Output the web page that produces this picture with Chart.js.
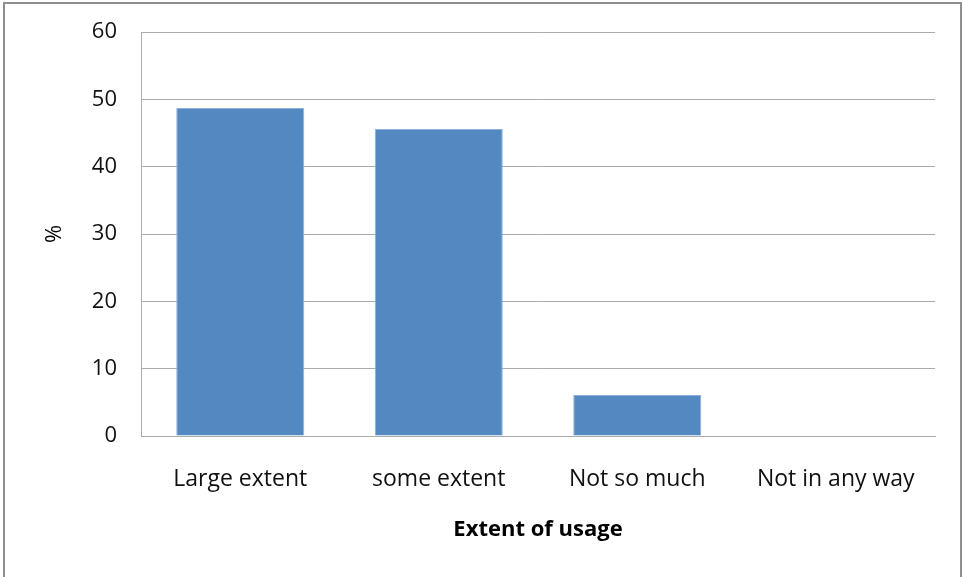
<!DOCTYPE html>
<html>
<head>
<meta charset="utf-8">
<script src="https://cdn.jsdelivr.net/npm/chart.js@4/dist/chart.umd.min.js"></script>
<style>
  html, body { margin: 0; padding: 0; background: #fff; }
  #wrap { width: 963px; height: 577px; }
</style>
</head>
<body>
<div id="wrap"><canvas id="c" width="963" height="577"></canvas></div>
<script>
const categories = ['Large extent', 'some extent', 'Not so much', 'Not in any way'];
const percentages = [48.7, 45.6, 6.1, 0];
const yTicks = [0, 10, 20, 30, 40, 50, 60];

const FONT = '"Open Sans", Lato, sans-serif';

// outer frame around the chart
const framePlugin = {
  id: 'frame',
  beforeDraw(chart) {
    const ctx = chart.ctx;
    ctx.save();
    ctx.strokeStyle = '#8f8f8f';
    ctx.lineWidth = 2;
    ctx.beginPath();
    ctx.moveTo(4, 577);
    ctx.lineTo(4, 3);
    ctx.lineTo(961, 3);
    ctx.lineTo(961, 577);
    ctx.stroke();
    ctx.restore();
  }
};

new Chart(document.getElementById('c'), {
  type: 'bar',
  data: {
    labels: categories,
    datasets: [{
      data: percentages,
      backgroundColor: '#5388C1',
      borderColor: '#8fb0da',
      borderWidth: 1,
      barPercentage: 1,
      categoryPercentage: 0.645
    }]
  },
  options: {
    responsive: false,
    animation: false,
    layout: { padding: { left: 0, top: 32, right: 28, bottom: 0 } },
    plugins: { legend: { display: false }, tooltip: { enabled: false } },
    scales: {
      x: {
        grid: { display: false, drawTicks: false },
        border: { display: true, color: '#ababab', width: 1 },
        ticks: { color: '#111', font: { family: FONT, size: 23 }, padding: 30 },
        title: {
          display: true, text: 'Extent of usage', color: '#000',
          font: { family: FONT, size: 22, weight: 'bold', lineHeight: 1.2 },
          padding: { top: 0, bottom: 34 }
        },
        afterFit(scale) {
          scale.height = 141;
          scale.paddingLeft = 0; scale.paddingRight = 0;
        }
      },
      y: {
        min: 0, max: 60,
        afterBuildTicks(scale) { scale.ticks = yTicks.map(v => ({ value: v })); },
        grid: { color: '#ababab', lineWidth: 1, drawTicks: false },
        border: { display: true, color: '#ababab', width: 1 },
        ticks: { color: '#111', font: { family: FONT, size: 22 }, padding: 24 },
        title: {
          display: true, text: '%', color: '#000',
          font: { family: FONT, size: 22, lineHeight: 1.2 },
          padding: { top: 42, bottom: 0 }
        },
        afterFit(scale) {
          scale.width = 141;
          scale.paddingTop = 0; scale.paddingBottom = 0;
        }
      }
    }
  },
  plugins: [framePlugin]
});
</script>
</body>
</html>
